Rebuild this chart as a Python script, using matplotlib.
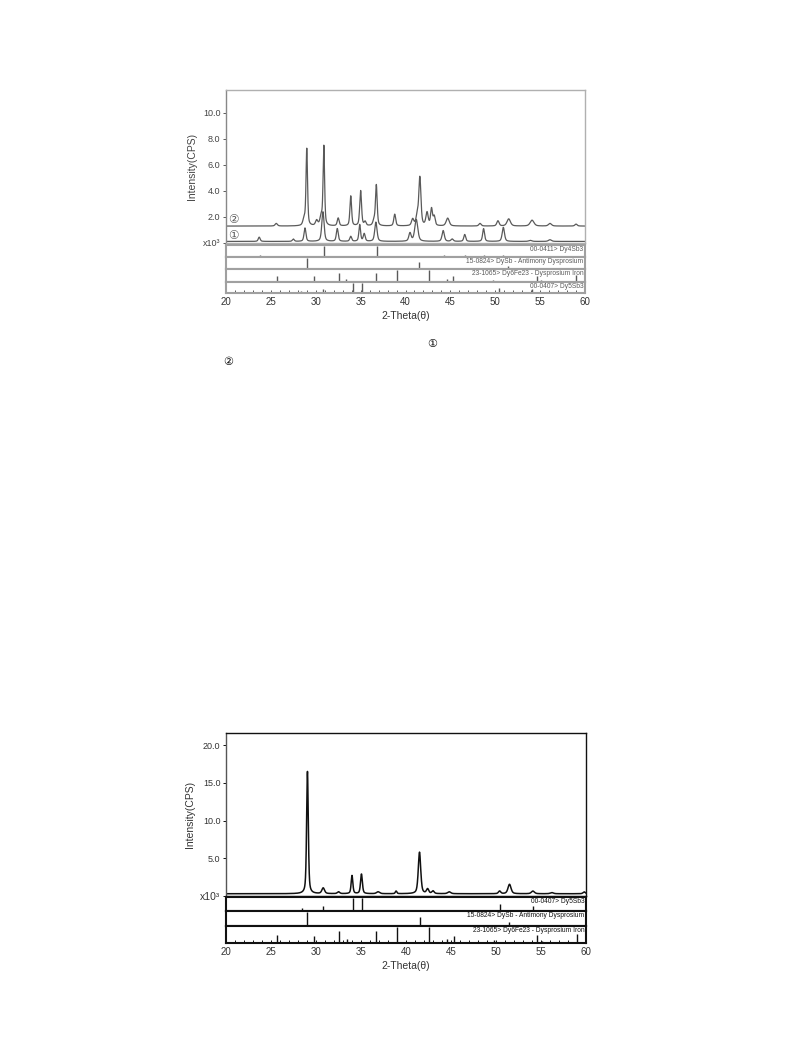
import numpy as np
import matplotlib.pyplot as plt
from matplotlib.ticker import MultipleLocator

plt.rcParams['font.family'] = ['Liberation Sans', 'DejaVu Sans', 'Noto Sans CJK SC']

W, H = 793, 1059

# ---- measured patterns: peak position (2θ), top intensity (x10^3 CPS), FWHM ----
# upper chart, pattern ②
p2_base = 1.3
p2_pos = [25.6, 28.7, 29.0, 30.1, 30.6, 30.9, 32.5, 33.9, 35.0, 35.5, 36.5, 36.75,
          38.8, 40.8, 41.3, 41.6, 42.4, 42.9, 43.2, 44.7, 48.3, 50.3, 51.5, 54.1, 56.1, 59.0]
p2_hgt = [1.5, 1.8, 7.2, 1.7, 2.0, 7.4, 1.9, 3.6, 4.0, 1.6, 1.7, 4.4,
          2.2, 1.8, 2.0, 5.0, 2.3, 2.6, 2.0, 1.9, 1.5, 1.7, 1.85, 1.75, 1.5, 1.45]
p2_wid = [0.3, 0.3, 0.2, 0.3, 0.3, 0.2, 0.25, 0.22, 0.24, 0.25, 0.3, 0.22,
          0.25, 0.3, 0.3, 0.28, 0.3, 0.25, 0.25, 0.4, 0.3, 0.3, 0.45, 0.5, 0.4, 0.3]

# upper chart, pattern ①
p1_base = 0.12
p1_pos = [23.7, 27.5, 28.8, 30.8, 32.4, 33.9, 34.9, 35.4, 36.7, 40.5, 41.2,
          44.2, 45.2, 46.6, 48.7, 50.9, 53.9, 56.1]
p1_hgt = [0.45, 0.3, 1.15, 2.4, 1.1, 0.5, 1.4, 0.7, 1.6, 0.75, 1.8,
          0.95, 0.3, 0.65, 1.1, 1.2, 0.2, 0.25]
p1_wid = [0.25, 0.25, 0.25, 0.3, 0.25, 0.25, 0.22, 0.25, 0.3, 0.3, 0.4,
          0.3, 0.3, 0.25, 0.25, 0.3, 0.4, 0.4]

# lower chart pattern
p3_base = 0.3
p3_pos = [29.05, 30.8, 32.5, 34.0, 35.05, 36.9, 38.9, 41.5, 42.4, 43.0, 44.8,
          50.4, 51.5, 54.1, 56.2, 59.8]
p3_hgt = [16.5, 1.05, 0.55, 2.7, 2.9, 0.55, 0.65, 5.8, 0.9, 0.65, 0.55,
          0.65, 1.55, 0.65, 0.45, 0.55]
p3_wid = [0.22, 0.35, 0.3, 0.22, 0.24, 0.4, 0.2, 0.32, 0.3, 0.3, 0.4,
          0.3, 0.4, 0.4, 0.4, 0.3]

# ---- reference cards: line positions and relative intensity ----
dy4sb3_lbl = '00-0411> Dy4Sb3'
dy4sb3_pos = [23.8, 27.6, 30.9, 36.8, 39.4, 44.3, 46.6, 48.7, 50.9, 54.2, 59.0]
dy4sb3_int = [0.2, 0.08, 1.0, 1.0, 0.08, 0.15, 0.15, 0.2, 0.2, 0.08, 0.08]

dysb_lbl = '15-0824> DySb - Antimony Dysprosium'
dysb_pos = [25.1, 29.0, 41.5, 49.2, 51.4]
dysb_int = [0.1, 1.0, 0.65, 0.08, 0.25]

dy6fe23_lbl = '23-1065> Dy6Fe23 - Dysprosium Iron'
dy6fe23_pos = [25.7, 29.8, 32.6, 33.4, 36.7, 39.0, 42.6, 44.6, 45.3, 49.8, 54.6, 55.1, 59.0]
dy6fe23_int = [0.5, 0.45, 0.75, 0.25, 0.75, 1.0, 1.0, 0.25, 0.45, 0.2, 0.5, 0.15, 0.55]

dy5sb3_lbl = '00-0407> Dy5Sb3'
dy5sb3_pos = [23.1, 24.5, 28.4, 30.8, 34.1, 35.1, 37.0, 40.6, 42.4, 43.4, 44.9, 47.2,
              50.4, 51.9, 54.1, 54.7, 55.9, 56.8, 57.9]
dy5sb3_int = [0.08, 0.08, 0.2, 0.4, 1.0, 1.0, 0.08, 0.08, 0.08, 0.08, 0.1, 0.08,
              0.5, 0.08, 0.35, 0.1, 0.08, 0.08, 0.08]

two_theta = np.linspace(20, 60, 4001)


def profile(base, pos, hgt, wid):
    # pseudo-Voigt sum through the read-off peaks
    y = np.full_like(two_theta, base)
    for c, h, w in zip(pos, hgt, wid):
        d = (two_theta - c) / (w / 2)
        y += (h - base) * (0.5 * np.exp(-np.log(2) * d**2) + 0.5 / (1 + d**2))
    return y


def ax_at(fig, x0, y0, x1, y1):
    return fig.add_axes([x0 / W, 1 - y1 / H, (x1 - x0) / W, (y1 - y0) / H])


def style_frame(ax, color, lw, left_color=None):
    for s in ax.spines.values():
        s.set_color(color)
        s.set_linewidth(lw)
    if left_color:
        ax.spines['left'].set_color(left_color)


def stick_panel(fig, box, pos, inten, label, color, frame, lw, bottom=False):
    ax = ax_at(fig, *box)
    ax.set_xlim(20, 60)
    ax.set_ylim(0, 1.05)
    ax.vlines(pos, 0, inten, color=color, lw=1.0)
    ax.text(0.995, 0.93, label, transform=ax.transAxes, ha='right', va='top',
            fontsize=4.8, color=color)
    ax.set_yticks([])
    style_frame(ax, frame, lw)
    if bottom:
        ax.xaxis.set_major_locator(MultipleLocator(5))
        ax.xaxis.set_minor_locator(MultipleLocator(1))
        ax.tick_params(axis='x', which='both', direction='in', length=2.5,
                       width=0.7, color=color, labelsize=7, pad=3, labelcolor='#333333')
        ax.set_xlabel('2-Theta(θ)', fontsize=7.5, color='#333333', labelpad=3)
    else:
        ax.set_xticks([])
    return ax


fig = plt.figure(figsize=(W / 100, H / 100), dpi=100)

# ================= upper chart =================
grey = '#5a5a5a'
ax1 = ax_at(fig, 226, 90, 585, 243)
ax1.plot(two_theta, profile(p2_base, p2_pos, p2_hgt, p2_wid), color=grey, lw=0.9)
ax1.plot(two_theta, profile(p1_base, p1_pos, p1_hgt, p1_wid), color=grey, lw=0.9)
ax1.set_xlim(20, 60)
ax1.set_ylim(0, 11.75)
ax1.set_xticks([])
ax1.set_yticks([0, 2, 4, 6, 8, 10])
ax1.set_yticklabels(['x10³', '2.0', '4.0', '6.0', '8.0', '10.0'])
ax1.tick_params(axis='y', length=2.5, width=0.7, color=grey, labelsize=6.5,
                labelcolor='#444444', pad=1.5)
ax1.set_ylabel('Intensity(CPS)', fontsize=7.5, color='#444444', labelpad=4)
style_frame(ax1, '#b0b0b0', 1.0, left_color='#888888')
ax1.text(20.25, 1.75, '②', fontsize=8.5, color=grey, va='center', ha='left')
ax1.text(20.25, 0.55, '①', fontsize=8.5, color=grey, va='center', ha='left')

stick_panel(fig, (226, 245, 585, 257), dy4sb3_pos, dy4sb3_int, dy4sb3_lbl, grey, '#a0a0a0', 1.5)
stick_panel(fig, (226, 257, 585, 269), dysb_pos, dysb_int, dysb_lbl, grey, '#a0a0a0', 1.5)
stick_panel(fig, (226, 269, 585, 282), dy6fe23_pos, dy6fe23_int, dy6fe23_lbl, grey, '#a0a0a0', 1.5)
stick_panel(fig, (226, 282, 585, 293), dy5sb3_pos, dy5sb3_int, dy5sb3_lbl, grey, '#a0a0a0', 1.5,
            bottom=True)

fig.text(432 / W, 1 - 344 / H, '①', fontsize=8, ha='center', va='center')
fig.text(228 / W, 1 - 362 / H, '②', fontsize=8, ha='center', va='center')

# ================= lower chart =================
blk = '#111111'
ax2 = ax_at(fig, 226, 733, 586, 896)
ax2.plot(two_theta, profile(p3_base, p3_pos, p3_hgt, p3_wid), color=blk, lw=1.1)
ax2.set_xlim(20, 60)
ax2.set_ylim(0, 21.6)
ax2.set_xticks([])
ax2.set_yticks([0, 5, 10, 15, 20])
ax2.set_yticklabels(['x10³', '5.0', '10.0', '15.0', '20.0'])
ax2.tick_params(axis='y', length=2.5, width=0.7, color=blk, labelsize=6.5,
                labelcolor='#333333', pad=1.5)
ax2.get_yticklabels()[0].set_fontsize(7.5)
ax2.set_ylabel('Intensity(CPS)', fontsize=7.5, color='#333333', labelpad=4)
style_frame(ax2, blk, 1.0, left_color='#555555')

stick_panel(fig, (226, 897, 586, 911), dy5sb3_pos, dy5sb3_int, dy5sb3_lbl, blk, blk, 1.5)
stick_panel(fig, (226, 911, 586, 926), dysb_pos, dysb_int, dysb_lbl, blk, blk, 1.5)
stick_panel(fig, (226, 926, 586, 943), dy6fe23_pos, dy6fe23_int, dy6fe23_lbl, blk, blk, 1.5,
            bottom=True)

fig.savefig('out.png', dpi=100)
